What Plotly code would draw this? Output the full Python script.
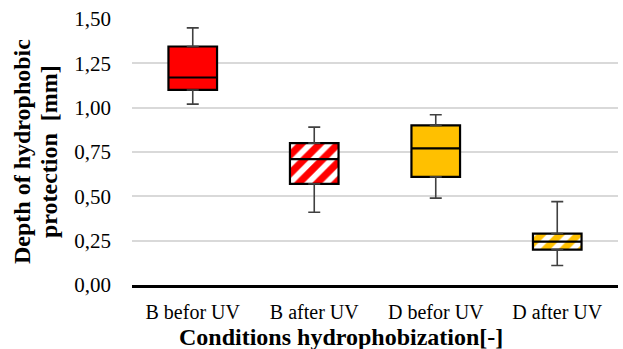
import plotly.graph_objects as go

categories = ["B befor UV", "B after UV", "D befor UV", "D after UV"]
mins = [1.02, 0.41, 0.49, 0.11]
q1s = [1.10, 0.57, 0.61, 0.20]
medians = [1.17, 0.71, 0.77, 0.245]
q3s = [1.345, 0.80, 0.90, 0.29]
maxs = [1.45, 0.89, 0.96, 0.47]
fill_colors = ["#FF0000", "#FF0000", "#FFC000", "#FFC000"]
patterns = ["", "/", "", "/"]
y_title_lines = ["Depth of hydrophobic", "protection  [mm]"]
x_title = "Conditions hydrophobization[-]"

FONT = "Times New Roman, Liberation Serif, Tinos, serif"

fig = go.Figure()

# colored / hatched box bodies
for cat, lo, hi, col, pat in zip(categories, q1s, q3s, fill_colors, patterns):
    if pat:
        marker = dict(color="#FFFFFF", line=dict(width=0), opacity=1,
                      pattern=dict(shape=pat, fgcolor=col, bgcolor="#FFFFFF",
                                   fgopacity=1, size=13, solidity=0.55))
    else:
        marker = dict(color=col, line=dict(width=0), opacity=1)
    fig.add_trace(go.Bar(
        x=[cat], y=[hi - lo], base=[lo], width=0.4,
        marker=marker, showlegend=False, hoverinfo="skip",
    ))

# box outlines + median
fig.add_trace(go.Box(
    x=categories,
    q1=q1s, median=medians, q3=q3s,
    lowerfence=q1s, upperfence=q3s,
    width=0.4,
    whiskerwidth=0,
    fillcolor="rgba(0,0,0,0)",
    line=dict(color="#000000", width=2.2),
    boxpoints=False,
    showlegend=False,
))

# upper whiskers
fig.add_trace(go.Scatter(
    x=categories, y=q3s, mode="markers",
    marker=dict(size=1, opacity=0),
    error_y=dict(type="data", symmetric=False,
                 array=[mx - q3 for mx, q3 in zip(maxs, q3s)],
                 arrayminus=[0] * 4,
                 color="#404040", thickness=1.6, width=6),
    showlegend=False, hoverinfo="skip",
))
# lower whiskers
fig.add_trace(go.Scatter(
    x=categories, y=q1s, mode="markers",
    marker=dict(size=1, opacity=0),
    error_y=dict(type="data", symmetric=False,
                 array=[0] * 4,
                 arrayminus=[q1 - mn for mn, q1 in zip(mins, q1s)],
                 color="#404040", thickness=1.6, width=6),
    showlegend=False, hoverinfo="skip",
))

fig.update_layout(
    width=623, height=349,
    margin=dict(l=132, r=5, t=19, b=64),
    paper_bgcolor="white", plot_bgcolor="white",
    separators=", ",
    font=dict(family=FONT, color="#000000", size=20),
    barmode="overlay",
    annotations=[
        dict(text="<b>%s</b>" % y_title_lines[0], xref="paper", yref="paper",
             x=(22 - 132) / 486, y=0.5, xanchor="center", yanchor="middle",
             textangle=-90, showarrow=False, font=dict(family=FONT, size=24)),
        dict(text="<b>%s</b>" % y_title_lines[1], xref="paper", yref="paper",
             x=(49 - 132) / 486, y=0.5, xanchor="center", yanchor="middle",
             textangle=-90, showarrow=False, font=dict(family=FONT, size=24)),
        dict(text="<b>%s</b>" % x_title, xref="paper", yref="paper",
             x=(341 - 132) / 486, y=-(337 - 285) / 266,
             xanchor="center", yanchor="middle",
             showarrow=False, font=dict(family=FONT, size=24)),
    ],
)
fig.update_xaxes(
    type="category",
    range=[-0.5, 3.5],
    showline=True, linecolor="#000000", linewidth=2.5,
    showgrid=False, ticks="",
    tickfont=dict(family=FONT, size=20),
    ticklabelstandoff=7,
    automargin=False,
)
fig.update_yaxes(
    range=[0, 1.5], dtick=0.25, tickformat=".2f",
    showgrid=True, gridcolor="#D9D9D9", gridwidth=1.5,
    zeroline=False, showline=False, ticks="",
    tickfont=dict(family=FONT, size=21),
    ticklabelstandoff=20,
    automargin=False,
)

fig.write_html("out.html")
